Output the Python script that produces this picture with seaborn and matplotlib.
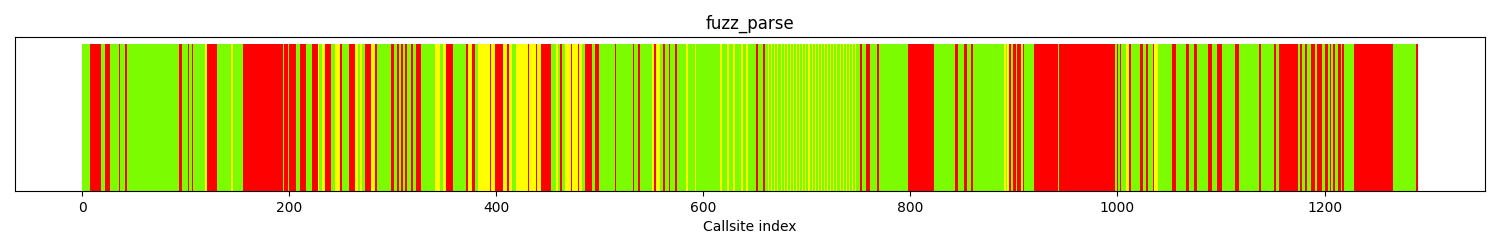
import matplotlib
matplotlib.use("Agg")
import matplotlib.pyplot as plt
import seaborn as sns
import pandas as pd

# Run-length encoded status per callsite: one colour code and the end index
# (exclusive) of each run, written in matching rows.
seg_code_rows = [
    "GRGRGRGRGR", "GRGRGYRGYG", "RGRGRGRGRY", "GYRGYRGRYG", "YGRYRGRGRG",
    "RGRGRGRGYG", "YRGRYRGYRY", "RYRYGYRYRY", "RGYGRGYRYR", "YGRGRGRGRG",
    "RGYRYGRGRG", "RGYGYGYGYG", "YGYGYGRGRG",
    "YGYGYGYGYG", "YGYGYGYGYG", "YGYGYGYGYG", "YGYGYGYGYG", "YGYGYGYGYG", "YGYGYGYG",
    "RGRGRGRGRG", "RGRGYGYRGR", "GRYRGRGRGR", "GRGYRGRGRG", "RYGRGRGRGR",
    "GRGRGRGRGR", "GRGRGRGRGR", "GRGRGRGRGR", "GR",
]
seg_end_rows = [
    [8, 19, 22, 27, 36, 37, 42, 44, 94, 97],
    [103, 104, 106, 107, 119, 121, 131, 144, 146, 156],
    [194, 195, 199, 200, 207, 211, 217, 222, 228, 229],
    [232, 235, 241, 245, 249, 251, 258, 264, 267, 269],
    [271, 274, 279, 283, 285, 299, 302, 304, 306, 308],
    [310, 312, 314, 318, 320, 323, 328, 341, 346, 349],
    [352, 359, 371, 373, 377, 380, 383, 394, 395, 399],
    [407, 411, 413, 416, 419, 431, 432, 439, 440, 444],
    [453, 458, 460, 462, 464, 467, 473, 474, 479, 480],
    [483, 486, 493, 496, 500, 515, 516, 532, 533, 537],
    [539, 551, 553, 555, 559, 561, 563, 567, 568, 573],
    [575, 584, 586, 592, 593, 617, 618, 623, 625, 629],
    [631, 637, 639, 642, 644, 651, 653, 658, 660, 663],
    [664, 666, 667, 669, 670, 672, 673, 675, 676, 678],
    [679, 681, 682, 684, 685, 687, 688, 690, 691, 693],
    [694, 696, 697, 699, 700, 702, 703, 705, 706, 708],
    [709, 711, 712, 714, 715, 717, 718, 720, 721, 723],
    [724, 726, 727, 729, 730, 732, 733, 735, 736, 738],
    [739, 741, 742, 744, 745, 747, 748, 752],
    [754, 758, 761, 768, 770, 798, 823, 844, 846, 852],
    [855, 859, 861, 891, 893, 894, 896, 898, 900, 902],
    [903, 907, 909, 910, 920, 943, 944, 998, 1000, 1001],
    [1003, 1004, 1009, 1012, 1014, 1022, 1025, 1028, 1030, 1035],
    [1036, 1040, 1053, 1057, 1067, 1070, 1074, 1077, 1088, 1092],
    [1097, 1101, 1114, 1118, 1137, 1139, 1152, 1154, 1157, 1175],
    [1177, 1179, 1182, 1184, 1187, 1191, 1193, 1198, 1201, 1204],
    [1206, 1207, 1209, 1211, 1214, 1216, 1217, 1219, 1229, 1267],
    [1289, 1291],
]
status_names = {"G": "covered", "Y": "partial", "R": "missed"}
palette = {"covered": "#7CFC00", "partial": "#FFFF00", "missed": "#FF0000"}

seg_codes = "".join(seg_code_rows)
seg_ends = [e for row in seg_end_rows for e in row]
for c, e in zip(seg_code_rows, seg_end_rows):
    assert len(c) == len(e), (c, e)

idx, status = [], []
start = 0
for code, end in zip(seg_codes, seg_ends):
    for i in range(start, end):
        idx.append(i)
        status.append(status_names[code])
    start = end
df = pd.DataFrame({"index": idx, "value": 1.0, "status": status})

fig, ax = plt.subplots(figsize=(15, 2.5), dpi=100)
sns.barplot(data=df, x="index", y="value", hue="status", palette=palette,
            hue_order=["covered", "partial", "missed"], native_scale=True,
            width=1.0, saturation=1, errorbar=None, legend=False, ax=ax)
for p in ax.patches:
    p.set_linewidth(0)
    p.set_edgecolor("none")
ax.set_yticks([])
ax.set_ylabel("")
ax.set_xlabel("Callsite index")
ax.set_title("fuzz_parse")
fig.subplots_adjust(left=0.01, right=0.99, top=0.852, bottom=0.236)
fig.savefig("out.png", dpi=100)
